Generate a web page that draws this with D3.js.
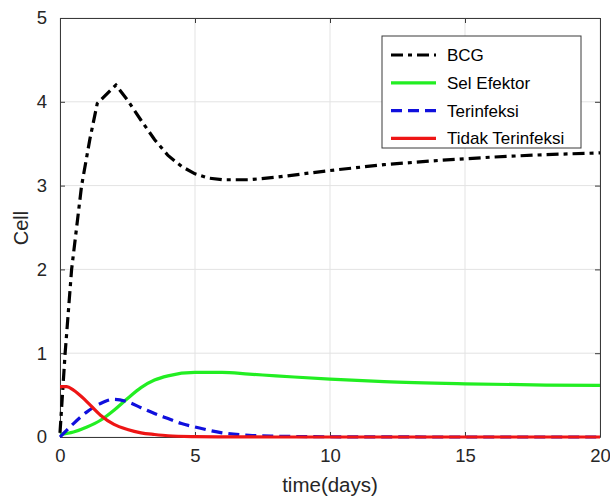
<!DOCTYPE html>
<html>
<head>
<meta charset="utf-8">
<script src="https://cdn.jsdelivr.net/npm/d3@7"></script>
<style>
  html, body { margin: 0; padding: 0; background: #fff; }
  svg { display: block; font-family: "Liberation Sans", Arial, Helvetica, sans-serif; }
</style>
</head>
<body>
<div id="chart"></div>
<script>
// ---- data ----
const bcgT   = [0, 0.19, 0.43, 0.8, 1.11, 1.38, 2.07, 2.5, 3.0, 3.5, 4.0, 4.5, 5.0, 5.5, 6.0, 7, 8, 9, 10, 12, 14, 16, 18, 20];
const bcgV   = [0.05, 1.0, 2.0, 3.0, 3.56, 3.98, 4.2, 4.02, 3.78, 3.55, 3.36, 3.23, 3.14, 3.09, 3.07, 3.07, 3.10, 3.14, 3.18, 3.25, 3.30, 3.34, 3.37, 3.39];

const efT    = [0, 0.5, 1, 1.5, 2, 2.5, 3, 3.5, 4, 5, 6, 7, 8, 10, 12, 15, 18, 20];
const efV    = [0.03, 0.06, 0.12, 0.2, 0.32, 0.46, 0.59, 0.68, 0.73, 0.77, 0.77, 0.75, 0.73, 0.69, 0.66, 0.635, 0.62, 0.615];

const infT   = [0, 0.5, 1, 1.5, 2, 2.5, 3, 3.5, 4, 4.5, 5, 6, 7, 8, 10, 15, 20];
const infV   = [0, 0.16, 0.3, 0.4, 0.45, 0.42, 0.35, 0.28, 0.22, 0.16, 0.12, 0.05, 0.02, 0.01, 0.003, 0, 0];

const notT   = [0, 0.25, 0.5, 1, 1.5, 2, 2.5, 3, 3.5, 4, 5, 6, 8, 10, 15, 20];
const notV   = [0.6, 0.6, 0.56, 0.42, 0.26, 0.15, 0.09, 0.05, 0.03, 0.015, 0.005, 0.002, 0, 0, 0, 0];

const xTicks = [0, 5, 10, 15, 20];
const yTicks = [0, 1, 2, 3, 4, 5];
const seriesNames = ["BCG", "Sel Efektor", "Terinfeksi", "Tidak Terinfeksi"];
const xLabel = "time(days)";
const yLabel = "Cell";

// ---- layout ----
const W = 610, H = 497;
const L = 60, R = 600, T = 18, B = 437;

const svg = d3.select("#chart").append("svg").attr("width", W).attr("height", H);

const x = d3.scaleLinear().domain([0, 20]).range([L, R]);
const y = d3.scaleLinear().domain([0, 5]).range([B, T]);

// grid
const grid = svg.append("g").attr("stroke", "#e3e3e3").attr("stroke-width", 1);
xTicks.forEach(t => grid.append("line").attr("x1", x(t)).attr("x2", x(t)).attr("y1", T).attr("y2", B));
yTicks.forEach(t => grid.append("line").attr("x1", L).attr("x2", R).attr("y1", y(t)).attr("y2", y(t)));

// axes with inward ticks
const tickLen = 5;
const fmt = d3.format("d");
const axB = svg.append("g").attr("transform", `translate(0,${B})`)
  .call(d3.axisBottom(x).tickValues(xTicks).tickFormat(fmt).tickSizeInner(-tickLen).tickSizeOuter(0).tickPadding(12));
const axT = svg.append("g").attr("transform", `translate(0,${T})`)
  .call(d3.axisTop(x).tickValues(xTicks).tickSizeInner(-tickLen).tickSizeOuter(0).tickFormat(""));
const axL = svg.append("g").attr("transform", `translate(${L},0)`)
  .call(d3.axisLeft(y).tickValues(yTicks).tickFormat(fmt).tickSizeInner(-tickLen).tickSizeOuter(0).tickPadding(13));
const axR = svg.append("g").attr("transform", `translate(${R},0)`)
  .call(d3.axisRight(y).tickValues(yTicks).tickSizeInner(-tickLen).tickSizeOuter(0).tickFormat(""));
[axB, axT, axL, axR].forEach(a => {
  a.select(".domain").attr("stroke", "#3a3a3a").attr("stroke-width", 1);
  a.selectAll(".tick line").attr("stroke", "#3a3a3a");
  a.selectAll(".tick text").attr("fill", "#262626").style("font-size", "18.5px")
    .style("font-family", '"Liberation Sans", Arial, sans-serif');
});
axB.selectAll(".tick text").attr("dy", "0.71em");

// curves
const mk = (ts, vs) => ts.map((t, i) => ({ t, v: vs[i] }));
const lineLin = d3.line().x(d => x(d.t)).y(d => y(d.v)).curve(d3.curveLinear);
const lineSm = d3.line().x(d => x(d.t)).y(d => y(d.v)).curve(d3.curveMonotoneX);

const plot = svg.append("g");
plot.append("path").datum(mk(bcgT, bcgV)).attr("d", lineLin)
  .attr("fill", "none").attr("stroke", "#000").attr("stroke-width", 3.2)
  .attr("stroke-dasharray", "12,5,4,5");
plot.append("path").datum(mk(efT, efV)).attr("d", lineSm)
  .attr("fill", "none").attr("stroke", "#22ee22").attr("stroke-width", 3.2);
plot.append("path").datum(mk(infT, infV)).attr("d", lineSm)
  .attr("fill", "none").attr("stroke", "#1010dd").attr("stroke-width", 3.2)
  .attr("stroke-dasharray", "11,6");
plot.append("path").datum(mk(notT, notV)).attr("d", lineSm)
  .attr("fill", "none").attr("stroke", "#ee1515").attr("stroke-width", 3.2);

// legend
const lg = svg.append("g");
lg.append("rect").attr("x", 382).attr("y", 36).attr("width", 199).attr("height", 112)
  .attr("fill", "#fff").attr("stroke", "#3a3a3a").attr("stroke-width", 1);
const lgStyles = [
  { c: "#000", d: "12,5,4,5" },
  { c: "#22ee22", d: null },
  { c: "#1010dd", d: "11,6" },
  { c: "#ee1515", d: null }
];
seriesNames.forEach((n, i) => {
  const yy = 55 + i * 27.8;
  const ln = lg.append("line").attr("x1", 391).attr("x2", 436).attr("y1", yy).attr("y2", yy)
    .attr("stroke", lgStyles[i].c).attr("stroke-width", 3.2);
  if (lgStyles[i].d) ln.attr("stroke-dasharray", lgStyles[i].d);
  lg.append("text").attr("x", 447).attr("y", yy).attr("dy", "0.35em")
    .style("font-size", "17px").attr("fill", "#000").text(n);
});

// axis labels
svg.append("text").attr("x", 330).attr("y", 492).attr("text-anchor", "middle")
  .style("font-size", "20.5px").attr("fill", "#262626").text(xLabel);
svg.append("text").attr("transform", "translate(28,228) rotate(-90)").attr("text-anchor", "middle")
  .style("font-size", "20px").attr("fill", "#262626").text(yLabel);
</script>
</body>
</html>
